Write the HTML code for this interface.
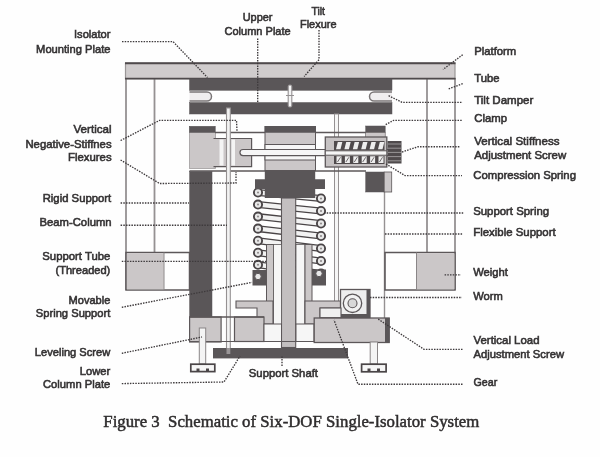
<!DOCTYPE html>
<html><head><meta charset="utf-8"><style>
html,body{margin:0;padding:0;background:#fefefe;}
svg{display:block;filter:blur(0.55px);}
</style></head><body>
<svg width="600" height="457" viewBox="0 0 600 457">
<rect width="600" height="457" fill="#fefefe"/>
<line x1="126" y1="78" x2="126" y2="290" stroke="#959192" stroke-width="1.8" />
<line x1="154.5" y1="78" x2="154.5" y2="252" stroke="#959192" stroke-width="1.8" />
<line x1="427" y1="78" x2="427" y2="252" stroke="#959192" stroke-width="1.8" />
<line x1="455" y1="78" x2="455" y2="290" stroke="#959192" stroke-width="1.8" />
<rect x="125.5" y="63.2" width="329.5" height="15.4" fill="#d0cccd" stroke="#9a9697" stroke-width="1.2" />
<line x1="125" y1="63.2" x2="455.5" y2="63.2" stroke="#4f4a4c" stroke-width="1.9" />
<line x1="125" y1="78.6" x2="455.5" y2="78.6" stroke="#4f4a4c" stroke-width="1.7" />
<rect x="189.5" y="79" width="202.5" height="11.3" fill="#5a5658" stroke="#5a5658" stroke-width="0.5" />
<rect x="189.5" y="102.5" width="202.5" height="11.5" fill="#5a5658" stroke="#5a5658" stroke-width="0.5" />
<path d="M189.5,92 L207,92 A4.5,4.5 0 0 1 207,101 L189.5,101" fill="#f0eeef" stroke="#7a7677" stroke-width="1.5"/>
<path d="M392,92 L374,92 A4.5,4.5 0 0 0 374,101 L392,101" fill="#f0eeef" stroke="#7a7677" stroke-width="1.5"/>
<rect x="288.2" y="85" width="3.6" height="22" fill="#f4f4f4" stroke="#959192" stroke-width="1.1" rx="1.5"/>
<line x1="286" y1="95.5" x2="294" y2="95.5" stroke="#959192" stroke-width="1" />
<rect x="334.5" y="114" width="4" height="188" fill="#f6f6f6" stroke="#959192" stroke-width="1.0" />
<line x1="384.5" y1="191" x2="384.5" y2="318" stroke="#959192" stroke-width="1.4" />
<rect x="189.5" y="126.5" width="26" height="42" fill="#cbc7c8" stroke="#a09c9d" stroke-width="0.8" />
<rect x="189.5" y="126.5" width="25.5" height="6" fill="#5a5658" stroke="#5a5658" stroke-width="0.5" />
<line x1="215" y1="132.5" x2="366" y2="132.5" stroke="#5c5759" stroke-width="1.5" />
<line x1="189.5" y1="171" x2="366" y2="171" stroke="#5c5759" stroke-width="1.5" />
<rect x="213.5" y="138.5" width="38" height="28" fill="#cbc7c8" stroke="none" stroke-width="0" />
<path d="M213.5,138.5 L251.6,138.5 L251.6,166.6 L213.5,166.6" fill="none" stroke="#5c5759" stroke-width="1.2"/>
<rect x="219.5" y="139.5" width="4" height="26" fill="#f4f4f4" stroke="none" stroke-width="0" />
<rect x="231.5" y="139.5" width="3.5" height="26" fill="#f4f4f4" stroke="none" stroke-width="0" />
<rect x="265" y="126.5" width="50.5" height="44" fill="#cbc7c8" stroke="#5c5759" stroke-width="1.0" />
<rect x="265" y="126.5" width="50.5" height="6" fill="#5a5658" stroke="#5a5658" stroke-width="0.5" />
<rect x="265" y="144.5" width="50.5" height="15.5" fill="#f6f6f6" stroke="#5c5759" stroke-width="1.0" />
<path d="M388,149.5 L243,149.5 A3,3 0 0 0 243,155.6 L388,155.6" fill="#f6f6f6" stroke="#5c5759" stroke-width="1.2"/>
<rect x="226.5" y="108" width="3.8" height="246" fill="#f2f2f2" stroke="#959192" stroke-width="1.1" />
<rect x="365.7" y="126" width="19.5" height="6.5" fill="#5a5658" stroke="#5a5658" stroke-width="0.5" />
<rect x="365.7" y="132.5" width="19.5" height="5" fill="#cbc7c8" stroke="#5c5759" stroke-width="0.6" />
<rect x="325.3" y="137" width="61.5" height="30" fill="#c6c2c3" stroke="#5c5759" stroke-width="1.3" />
<rect x="334" y="141" width="50.5" height="9.5" fill="#4f4a4c" stroke="none" stroke-width="0" />
<rect x="334" y="156" width="50.5" height="8" fill="#4f4a4c" stroke="none" stroke-width="0" />
<path d="M336.0,149.2 L340.5,149.2 L342.3,142 L337.8,142 Z" fill="#eeeeee"/>
<path d="M336.5,156.3 L341.5,156.3 L341.5,163 L336.5,163 Z" fill="#eeeeee"/><path d="M337.5,162 L340.5,157.3" stroke="#5f5a5c" stroke-width="0.9"/>
<path d="M344.4,149.2 L348.9,149.2 L350.7,142 L346.2,142 Z" fill="#eeeeee"/>
<path d="M344.9,156.3 L349.9,156.3 L349.9,163 L344.9,163 Z" fill="#eeeeee"/><path d="M345.9,162 L348.9,157.3" stroke="#5f5a5c" stroke-width="0.9"/>
<path d="M352.8,149.2 L357.3,149.2 L359.1,142 L354.6,142 Z" fill="#eeeeee"/>
<path d="M353.3,156.3 L358.3,156.3 L358.3,163 L353.3,163 Z" fill="#eeeeee"/><path d="M354.3,162 L357.3,157.3" stroke="#5f5a5c" stroke-width="0.9"/>
<path d="M361.2,149.2 L365.7,149.2 L367.5,142 L363.0,142 Z" fill="#eeeeee"/>
<path d="M361.7,156.3 L366.7,156.3 L366.7,163 L361.7,163 Z" fill="#eeeeee"/><path d="M362.7,162 L365.7,157.3" stroke="#5f5a5c" stroke-width="0.9"/>
<path d="M369.6,149.2 L374.1,149.2 L375.90000000000003,142 L371.40000000000003,142 Z" fill="#eeeeee"/>
<path d="M370.1,156.3 L375.1,156.3 L375.1,163 L370.1,163 Z" fill="#eeeeee"/><path d="M371.1,162 L374.1,157.3" stroke="#5f5a5c" stroke-width="0.9"/>
<path d="M378.0,149.2 L382.5,149.2 L384.3,142 L379.8,142 Z" fill="#eeeeee"/>
<path d="M378.5,156.3 L383.5,156.3 L383.5,163 L378.5,163 Z" fill="#eeeeee"/><path d="M379.5,162 L382.5,157.3" stroke="#5f5a5c" stroke-width="0.9"/>
<rect x="325.3" y="150.8" width="61.5" height="4.4" fill="#f6f6f6" stroke="#5c5759" stroke-width="1.0" />
<rect x="387.5" y="141" width="14" height="22.5" fill="#4f4a4c" stroke="none" stroke-width="0" />
<line x1="388" y1="144.0" x2="401" y2="144.0" stroke="#9a9698" stroke-width="1.0" />
<line x1="388" y1="148.2" x2="401" y2="148.2" stroke="#9a9698" stroke-width="1.0" />
<line x1="388" y1="152.4" x2="401" y2="152.4" stroke="#9a9698" stroke-width="1.0" />
<line x1="388" y1="156.6" x2="401" y2="156.6" stroke="#9a9698" stroke-width="1.0" />
<line x1="388" y1="160.8" x2="401" y2="160.8" stroke="#9a9698" stroke-width="1.0" />
<rect x="365.7" y="172" width="18.5" height="20" fill="#5a5658" stroke="#5a5658" stroke-width="0.5" />
<rect x="384.2" y="172" width="7.5" height="20" fill="#cbc7c8" stroke="#5c5759" stroke-width="0.8" />
<rect x="189.6" y="171.5" width="22.4" height="145.5" fill="#5a5658" stroke="#5a5658" stroke-width="0.5" />
<rect x="126" y="252.5" width="63.5" height="37.5" fill="none" stroke="#5c5759" stroke-width="1.5" />
<rect x="126.8" y="253.3" width="37" height="36" fill="#cbc7c8" stroke="none" stroke-width="0" />
<line x1="164" y1="252.5" x2="164" y2="290" stroke="#8a8687" stroke-width="1.0" />
<rect x="385" y="252.5" width="70" height="37.5" fill="none" stroke="#5c5759" stroke-width="1.5" />
<rect x="416.5" y="253.3" width="38" height="36" fill="#cbc7c8" stroke="none" stroke-width="0" />
<line x1="416.5" y1="252.5" x2="416.5" y2="290" stroke="#8a8687" stroke-width="1.0" />
<line x1="258" y1="192.5" x2="321" y2="198.5" stroke="#4a4547" stroke-width="7.0" />
<line x1="258" y1="192.5" x2="321" y2="198.5" stroke="#f2f2f2" stroke-width="4.4" />
<line x1="258" y1="204.55" x2="321" y2="211.0" stroke="#4a4547" stroke-width="7.0" />
<line x1="258" y1="204.55" x2="321" y2="211.0" stroke="#f2f2f2" stroke-width="4.4" />
<line x1="258" y1="216.6" x2="321" y2="223.5" stroke="#4a4547" stroke-width="7.0" />
<line x1="258" y1="216.6" x2="321" y2="223.5" stroke="#f2f2f2" stroke-width="4.4" />
<line x1="258" y1="228.65" x2="321" y2="236.0" stroke="#4a4547" stroke-width="7.0" />
<line x1="258" y1="228.65" x2="321" y2="236.0" stroke="#f2f2f2" stroke-width="4.4" />
<line x1="258" y1="240.7" x2="321" y2="248.5" stroke="#4a4547" stroke-width="7.0" />
<line x1="258" y1="240.7" x2="321" y2="248.5" stroke="#f2f2f2" stroke-width="4.4" />
<line x1="258" y1="252.75" x2="321" y2="261.0" stroke="#4a4547" stroke-width="7.0" />
<line x1="258" y1="252.75" x2="321" y2="261.0" stroke="#f2f2f2" stroke-width="4.4" />
<line x1="258" y1="264.8" x2="321" y2="273.5" stroke="#4a4547" stroke-width="7.0" />
<line x1="258" y1="264.8" x2="321" y2="273.5" stroke="#f2f2f2" stroke-width="4.4" />
<rect x="281.5" y="198" width="14.2" height="149.5" fill="#c3bfc0" stroke="#5c5759" stroke-width="1.1" />
<rect x="266.5" y="244.5" width="7" height="80" fill="#cbc7c8" stroke="#5c5759" stroke-width="1.0" />
<rect x="273.5" y="244.5" width="8" height="80" fill="#f6f6f6" stroke="#5c5759" stroke-width="0.8" />
<rect x="296" y="244.5" width="9" height="80" fill="#f6f6f6" stroke="#5c5759" stroke-width="0.8" />
<rect x="305" y="244.5" width="7" height="80" fill="#cbc7c8" stroke="#5c5759" stroke-width="1.0" />
<path d="M236,301 L273,301 L273,324 L257,324 L257,308 L236,308 Z" fill="#cbc7c8" stroke="#5c5759" stroke-width="1.1"/>
<path d="M341,301 L305,301 L305,324 L320,324 L320,308 L341,308 Z" fill="#cbc7c8" stroke="#5c5759" stroke-width="1.1"/>
<circle cx="258" cy="192.5" r="4.1" fill="#e8e8e8" stroke="#4a4547" stroke-width="1.9"/><circle cx="258" cy="192.5" r="1" fill="#8a8687"/>
<circle cx="258" cy="204.55" r="4.1" fill="#e8e8e8" stroke="#4a4547" stroke-width="1.9"/><circle cx="258" cy="204.55" r="1" fill="#8a8687"/>
<circle cx="258" cy="216.6" r="4.1" fill="#e8e8e8" stroke="#4a4547" stroke-width="1.9"/><circle cx="258" cy="216.6" r="1" fill="#8a8687"/>
<circle cx="258" cy="228.65" r="4.1" fill="#e8e8e8" stroke="#4a4547" stroke-width="1.9"/><circle cx="258" cy="228.65" r="1" fill="#8a8687"/>
<circle cx="258" cy="240.7" r="4.1" fill="#e8e8e8" stroke="#4a4547" stroke-width="1.9"/><circle cx="258" cy="240.7" r="1" fill="#8a8687"/>
<circle cx="258" cy="252.75" r="4.1" fill="#e8e8e8" stroke="#4a4547" stroke-width="1.9"/><circle cx="258" cy="252.75" r="1" fill="#8a8687"/>
<circle cx="258" cy="264.8" r="4.1" fill="#e8e8e8" stroke="#4a4547" stroke-width="1.9"/><circle cx="258" cy="264.8" r="1" fill="#8a8687"/>
<circle cx="258" cy="276.85" r="4.1" fill="#e8e8e8" stroke="#4a4547" stroke-width="1.9"/><circle cx="258" cy="276.85" r="1" fill="#8a8687"/>
<circle cx="321" cy="198.5" r="4.1" fill="#e8e8e8" stroke="#4a4547" stroke-width="1.9"/><circle cx="321" cy="198.5" r="1" fill="#8a8687"/>
<circle cx="321" cy="211.0" r="4.1" fill="#e8e8e8" stroke="#4a4547" stroke-width="1.9"/><circle cx="321" cy="211.0" r="1" fill="#8a8687"/>
<circle cx="321" cy="223.5" r="4.1" fill="#e8e8e8" stroke="#4a4547" stroke-width="1.9"/><circle cx="321" cy="223.5" r="1" fill="#8a8687"/>
<circle cx="321" cy="236.0" r="4.1" fill="#e8e8e8" stroke="#4a4547" stroke-width="1.9"/><circle cx="321" cy="236.0" r="1" fill="#8a8687"/>
<circle cx="321" cy="248.5" r="4.1" fill="#e8e8e8" stroke="#4a4547" stroke-width="1.9"/><circle cx="321" cy="248.5" r="1" fill="#8a8687"/>
<circle cx="321" cy="261.0" r="4.1" fill="#e8e8e8" stroke="#4a4547" stroke-width="1.9"/><circle cx="321" cy="261.0" r="1" fill="#8a8687"/>
<circle cx="321" cy="273.5" r="4.1" fill="#e8e8e8" stroke="#4a4547" stroke-width="1.9"/><circle cx="321" cy="273.5" r="1" fill="#8a8687"/>
<path d="M264.8,170.5 L315.2,170.5 L315.2,179.2 L325,179.2 L325,189 L315.2,189 L315.2,198 L264.8,198 L264.8,189 L255,189 L255,179.2 L264.8,179.2 Z" fill="#5a5658"/>
<rect x="252.5" y="270" width="13.5" height="15.5" fill="#5a5658" stroke="none" stroke-width="0" />
<rect x="312" y="269.5" width="14" height="16" fill="#5a5658" stroke="none" stroke-width="0" />
<circle cx="258" cy="276.5" r="3.2" fill="#e8e8e8" stroke="#5c5759" stroke-width="1"/>
<circle cx="319" cy="273.5" r="3.2" fill="#e8e8e8" stroke="#5c5759" stroke-width="1"/>
<rect x="189.6" y="317" width="31.5" height="25" fill="#cbc7c8" stroke="#5c5759" stroke-width="1.2" />
<rect x="234.5" y="317" width="29.5" height="24.5" fill="#cbc7c8" stroke="#5c5759" stroke-width="1.2" />
<line x1="189.6" y1="317" x2="264" y2="317" stroke="#5c5759" stroke-width="1.3" />
<line x1="189.6" y1="341.5" x2="389" y2="341.5" stroke="#5c5759" stroke-width="1.2" />
<rect x="264" y="324" width="17.5" height="17.5" fill="#f6f6f6" stroke="#5c5759" stroke-width="1.0" />
<rect x="296" y="324" width="18" height="17.5" fill="#f6f6f6" stroke="#5c5759" stroke-width="1.0" />
<rect x="314.2" y="318" width="75" height="24.5" fill="#cbc7c8" stroke="#5c5759" stroke-width="1.3" />
<rect x="385" y="318" width="4.5" height="24.5" fill="#5a5658" stroke="none" stroke-width="0" />
<rect x="340.5" y="289.5" width="29.5" height="28" fill="#eeeeee" stroke="#5c5759" stroke-width="1.3" />
<rect x="366.5" y="289.5" width="3.5" height="28" fill="#5a5658" stroke="none" stroke-width="0" />
<rect x="340.5" y="314" width="29.5" height="3.5" fill="#5a5658" stroke="none" stroke-width="0" />
<circle cx="352.5" cy="303.3" r="9.2" fill="#f2f2f2" stroke="#5c5759" stroke-width="1.3"/>
<circle cx="352.5" cy="303.3" r="4.5" fill="#d8d8d8" stroke="#5c5759" stroke-width="1.1"/>
<rect x="320" y="308" width="21" height="9.6" fill="#f0f0f0" stroke="#5c5759" stroke-width="1.1" />
<rect x="199.3" y="328" width="6.4" height="36" fill="#f4f4f4" stroke="#8a8687" stroke-width="1.0" />
<rect x="190.8" y="364.2" width="24" height="7.4" fill="#f6f6f6" stroke="#4a4547" stroke-width="1.7" />
<rect x="196.5" y="368.5" width="3" height="2.5" fill="#4a4547" stroke="none" stroke-width="0" />
<rect x="206" y="368.5" width="3" height="2.5" fill="#4a4547" stroke="none" stroke-width="0" />
<rect x="370.2" y="342" width="7.3" height="22" fill="#f4f4f4" stroke="#8a8687" stroke-width="1.0" />
<rect x="361.6" y="364.2" width="24.5" height="7.6" fill="#f6f6f6" stroke="#4a4547" stroke-width="1.7" />
<rect x="367.5" y="368.5" width="3" height="2.5" fill="#4a4547" stroke="none" stroke-width="0" />
<rect x="377" y="368.5" width="3" height="2.5" fill="#4a4547" stroke="none" stroke-width="0" />
<rect x="213" y="348" width="135" height="10.4" fill="#5a5658" stroke="none" stroke-width="0" />
<rect x="226.5" y="348" width="3.8" height="6" fill="#9a9698" stroke="none" stroke-width="0" />
<path d="M122,41.6 L173,41.6 L207.5,77.5" fill="none" stroke="#3e3a3c" stroke-width="1.35" stroke-dasharray="1.5 1.2"/>
<path d="M257.7,38.4 L257.7,102.5" fill="none" stroke="#3e3a3c" stroke-width="1.35" stroke-dasharray="1.5 1.2"/>
<path d="M319,30 L319,59.7 L304.1,76.5" fill="none" stroke="#3e3a3c" stroke-width="1.35" stroke-dasharray="1.5 1.2"/>
<path d="M120.6,140.5 L159.6,120.4 L236.5,120.4 L237,131" fill="none" stroke="#3e3a3c" stroke-width="1.35" stroke-dasharray="1.5 1.2"/>
<path d="M120.6,160 L159.6,183.5 L236,183 L236,172" fill="none" stroke="#3e3a3c" stroke-width="1.35" stroke-dasharray="1.5 1.2"/>
<path d="M120.6,203 L189,203" fill="none" stroke="#3e3a3c" stroke-width="1.35" stroke-dasharray="1.5 1.2"/>
<path d="M120.6,225.2 L227,225.2" fill="none" stroke="#3e3a3c" stroke-width="1.35" stroke-dasharray="1.5 1.2"/>
<path d="M121.8,261.4 L266,261.4" fill="none" stroke="#3e3a3c" stroke-width="1.35" stroke-dasharray="1.5 1.2"/>
<path d="M121.8,307.3 L252,282.4" fill="none" stroke="#3e3a3c" stroke-width="1.35" stroke-dasharray="1.5 1.2"/>
<path d="M121.8,353.3 L202,337" fill="none" stroke="#3e3a3c" stroke-width="1.35" stroke-dasharray="1.5 1.2"/>
<path d="M121.8,383.6 L224,382 L240,356" fill="none" stroke="#3e3a3c" stroke-width="1.35" stroke-dasharray="1.5 1.2"/>
<path d="M282,366 L282,356" fill="none" stroke="#3e3a3c" stroke-width="1.35" stroke-dasharray="1.5 1.2"/>
<path d="M462.5,384.2 L358,384.2 L334,320" fill="none" stroke="#3e3a3c" stroke-width="1.35" stroke-dasharray="1.5 1.2"/>
<path d="M462.5,349.3 L424,349.3 L378,319" fill="none" stroke="#3e3a3c" stroke-width="1.35" stroke-dasharray="1.5 1.2"/>
<path d="M370,297.5 L462,297.5" fill="none" stroke="#3e3a3c" stroke-width="1.35" stroke-dasharray="1.5 1.2"/>
<path d="M444.6,274.8 L461,274.8" fill="none" stroke="#3e3a3c" stroke-width="1.35" stroke-dasharray="1.5 1.2"/>
<path d="M385,234 L463,234" fill="none" stroke="#3e3a3c" stroke-width="1.35" stroke-dasharray="1.5 1.2"/>
<path d="M324,213 L463.4,213" fill="none" stroke="#3e3a3c" stroke-width="1.35" stroke-dasharray="1.5 1.2"/>
<path d="M386,164 L405,175.6 L462,175.6" fill="none" stroke="#3e3a3c" stroke-width="1.35" stroke-dasharray="1.5 1.2"/>
<path d="M402,152 L418,146.7 L460,146.7" fill="none" stroke="#3e3a3c" stroke-width="1.35" stroke-dasharray="1.5 1.2"/>
<path d="M385.7,124.6 L393.6,120.3 L462,120.3" fill="none" stroke="#3e3a3c" stroke-width="1.35" stroke-dasharray="1.5 1.2"/>
<path d="M388.6,95.7 L402,102.3 L462.7,102.3" fill="none" stroke="#3e3a3c" stroke-width="1.35" stroke-dasharray="1.5 1.2"/>
<path d="M462.7,83.6 L448,89.2" fill="none" stroke="#3e3a3c" stroke-width="1.35" stroke-dasharray="1.5 1.2"/>
<path d="M462.7,54.7 L443,69.5" fill="none" stroke="#3e3a3c" stroke-width="1.35" stroke-dasharray="1.5 1.2"/>
<text x="110.5" y="38.1" text-anchor="end" font-family="Liberation Sans, sans-serif" font-size="11.8" fill="#343233" stroke="#343233" stroke-width="0.6" textLength="36.5" lengthAdjust="spacingAndGlyphs">Isolator</text>
<text x="110.5" y="52.5" text-anchor="end" font-family="Liberation Sans, sans-serif" font-size="11.8" fill="#343233" stroke="#343233" stroke-width="0.6" textLength="74.4" lengthAdjust="spacingAndGlyphs">Mounting Plate</text>
<text x="272.5" y="21.0" text-anchor="end" font-family="Liberation Sans, sans-serif" font-size="11.8" fill="#343233" stroke="#343233" stroke-width="0.6" textLength="29.8" lengthAdjust="spacingAndGlyphs">Upper</text>
<text x="224.5" y="35.0" text-anchor="start" font-family="Liberation Sans, sans-serif" font-size="11.8" fill="#343233" stroke="#343233" stroke-width="0.6" textLength="66.2" lengthAdjust="spacingAndGlyphs">Column Plate</text>
<text x="311.5" y="15.0" text-anchor="start" font-family="Liberation Sans, sans-serif" font-size="11.8" fill="#343233" stroke="#343233" stroke-width="0.6" textLength="13.5" lengthAdjust="spacingAndGlyphs">Tilt</text>
<text x="300" y="28.3" text-anchor="start" font-family="Liberation Sans, sans-serif" font-size="11.8" fill="#343233" stroke="#343233" stroke-width="0.6" textLength="36.5" lengthAdjust="spacingAndGlyphs">Flexure</text>
<text x="111.6" y="133.1" text-anchor="end" font-family="Liberation Sans, sans-serif" font-size="11.8" fill="#343233" stroke="#343233" stroke-width="0.6" textLength="38.1" lengthAdjust="spacingAndGlyphs">Vertical</text>
<text x="111.6" y="147.5" text-anchor="end" font-family="Liberation Sans, sans-serif" font-size="11.8" fill="#343233" stroke="#343233" stroke-width="0.6" textLength="86.2" lengthAdjust="spacingAndGlyphs">Negative-Stiffnes</text>
<text x="111.6" y="161.0" text-anchor="end" font-family="Liberation Sans, sans-serif" font-size="11.8" fill="#343233" stroke="#343233" stroke-width="0.6" textLength="43.6" lengthAdjust="spacingAndGlyphs">Flexures</text>
<text x="111.2" y="202.0" text-anchor="end" font-family="Liberation Sans, sans-serif" font-size="11.8" fill="#343233" stroke="#343233" stroke-width="0.6" textLength="68.5" lengthAdjust="spacingAndGlyphs">Rigid Support</text>
<text x="111.6" y="226.2" text-anchor="end" font-family="Liberation Sans, sans-serif" font-size="11.8" fill="#343233" stroke="#343233" stroke-width="0.6" textLength="72.1" lengthAdjust="spacingAndGlyphs">Beam-Column</text>
<text x="110.3" y="259.8" text-anchor="end" font-family="Liberation Sans, sans-serif" font-size="11.8" fill="#343233" stroke="#343233" stroke-width="0.6" textLength="68" lengthAdjust="spacingAndGlyphs">Support Tube</text>
<text x="110.3" y="273.9" text-anchor="end" font-family="Liberation Sans, sans-serif" font-size="11.8" fill="#343233" stroke="#343233" stroke-width="0.6" textLength="54.8" lengthAdjust="spacingAndGlyphs">(Threaded)</text>
<text x="110.3" y="303.5" text-anchor="end" font-family="Liberation Sans, sans-serif" font-size="11.8" fill="#343233" stroke="#343233" stroke-width="0.6" textLength="41.7" lengthAdjust="spacingAndGlyphs">Movable</text>
<text x="110.3" y="317.2" text-anchor="end" font-family="Liberation Sans, sans-serif" font-size="11.8" fill="#343233" stroke="#343233" stroke-width="0.6" textLength="74.5" lengthAdjust="spacingAndGlyphs">Spring Support</text>
<text x="110.3" y="355.7" text-anchor="end" font-family="Liberation Sans, sans-serif" font-size="11.8" fill="#343233" stroke="#343233" stroke-width="0.6" textLength="75.5" lengthAdjust="spacingAndGlyphs">Leveling Screw</text>
<text x="110.3" y="374.7" text-anchor="end" font-family="Liberation Sans, sans-serif" font-size="11.8" fill="#343233" stroke="#343233" stroke-width="0.6" textLength="30.5" lengthAdjust="spacingAndGlyphs">Lower</text>
<text x="110.3" y="387.9" text-anchor="end" font-family="Liberation Sans, sans-serif" font-size="11.8" fill="#343233" stroke="#343233" stroke-width="0.6" textLength="67.3" lengthAdjust="spacingAndGlyphs">Column Plate</text>
<text x="474.2" y="54.9" text-anchor="start" font-family="Liberation Sans, sans-serif" font-size="11.8" fill="#343233" stroke="#343233" stroke-width="0.6" textLength="42.1" lengthAdjust="spacingAndGlyphs">Platform</text>
<text x="474.2" y="81.5" text-anchor="start" font-family="Liberation Sans, sans-serif" font-size="11.8" fill="#343233" stroke="#343233" stroke-width="0.6" textLength="25.3" lengthAdjust="spacingAndGlyphs">Tube</text>
<text x="474.2" y="103.5" text-anchor="start" font-family="Liberation Sans, sans-serif" font-size="11.8" fill="#343233" stroke="#343233" stroke-width="0.6" textLength="59.1" lengthAdjust="spacingAndGlyphs">Tilt Damper</text>
<text x="474.2" y="121.5" text-anchor="start" font-family="Liberation Sans, sans-serif" font-size="11.8" fill="#343233" stroke="#343233" stroke-width="0.6" textLength="32.8" lengthAdjust="spacingAndGlyphs">Clamp</text>
<text x="474.2" y="144.5" text-anchor="start" font-family="Liberation Sans, sans-serif" font-size="11.8" fill="#343233" stroke="#343233" stroke-width="0.6" textLength="85.4" lengthAdjust="spacingAndGlyphs">Vertical Stiffness</text>
<text x="474.2" y="158.7" text-anchor="start" font-family="Liberation Sans, sans-serif" font-size="11.8" fill="#343233" stroke="#343233" stroke-width="0.6" textLength="92" lengthAdjust="spacingAndGlyphs">Adjustment Screw</text>
<text x="473.2" y="179.0" text-anchor="start" font-family="Liberation Sans, sans-serif" font-size="11.8" fill="#343233" stroke="#343233" stroke-width="0.6" textLength="102.8" lengthAdjust="spacingAndGlyphs">Compression Spring</text>
<text x="473.2" y="214.7" text-anchor="start" font-family="Liberation Sans, sans-serif" font-size="11.8" fill="#343233" stroke="#343233" stroke-width="0.6" textLength="75.9" lengthAdjust="spacingAndGlyphs">Support Spring</text>
<text x="473.2" y="236.1" text-anchor="start" font-family="Liberation Sans, sans-serif" font-size="11.8" fill="#343233" stroke="#343233" stroke-width="0.6" textLength="82.5" lengthAdjust="spacingAndGlyphs">Flexible Support</text>
<text x="473.2" y="276.2" text-anchor="start" font-family="Liberation Sans, sans-serif" font-size="11.8" fill="#343233" stroke="#343233" stroke-width="0.6" textLength="34.8" lengthAdjust="spacingAndGlyphs">Weight</text>
<text x="473.2" y="299.5" text-anchor="start" font-family="Liberation Sans, sans-serif" font-size="11.8" fill="#343233" stroke="#343233" stroke-width="0.6" textLength="29.6" lengthAdjust="spacingAndGlyphs">Worm</text>
<text x="473.5" y="344.0" text-anchor="start" font-family="Liberation Sans, sans-serif" font-size="11.8" fill="#343233" stroke="#343233" stroke-width="0.6" textLength="66" lengthAdjust="spacingAndGlyphs">Vertical Load</text>
<text x="473.5" y="358.0" text-anchor="start" font-family="Liberation Sans, sans-serif" font-size="11.8" fill="#343233" stroke="#343233" stroke-width="0.6" textLength="90.5" lengthAdjust="spacingAndGlyphs">Adjustment Screw</text>
<text x="473.5" y="385.5" text-anchor="start" font-family="Liberation Sans, sans-serif" font-size="11.8" fill="#343233" stroke="#343233" stroke-width="0.6" textLength="23.8" lengthAdjust="spacingAndGlyphs">Gear</text>
<text x="248.8" y="376.7" text-anchor="start" font-family="Liberation Sans, sans-serif" font-size="11.8" fill="#343233" stroke="#343233" stroke-width="0.6" textLength="69.2" lengthAdjust="spacingAndGlyphs">Support Shaft</text>
<text x="103.3" y="427" font-family="Liberation Serif, serif" font-size="17.6" fill="#2e2c2d" stroke="#2e2c2d" stroke-width="0.5" textLength="376" lengthAdjust="spacingAndGlyphs" xml:space="preserve">Figure 3  Schematic of Six-DOF Single-Isolator System</text>
</svg>
</body></html>
